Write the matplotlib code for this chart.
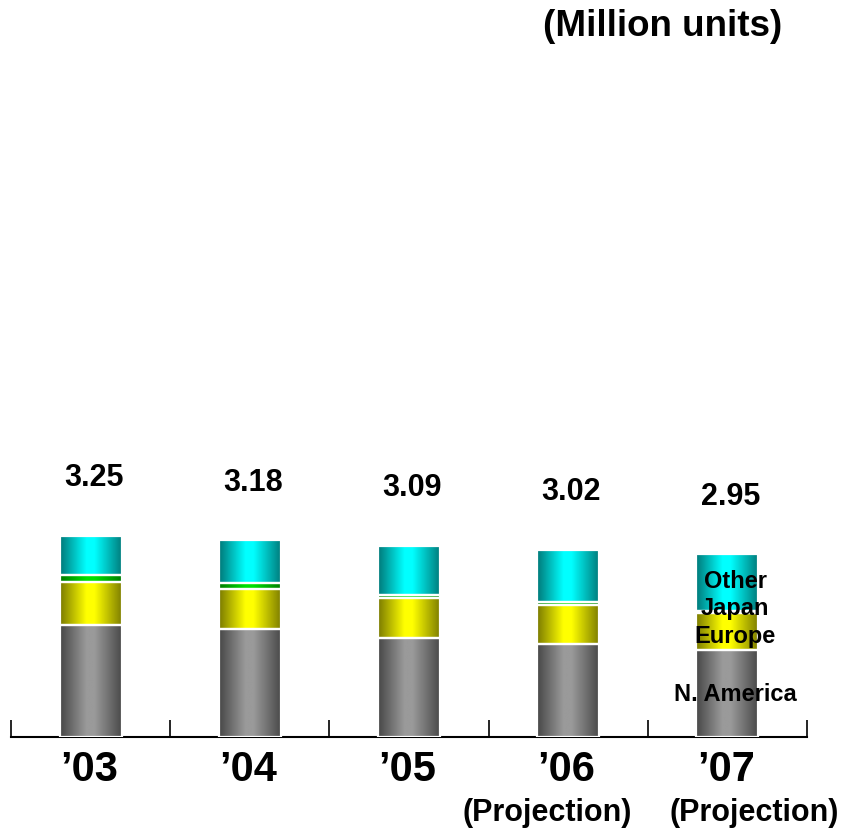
import numpy as np
import matplotlib
matplotlib.use("Agg")
import matplotlib.pyplot as plt
from matplotlib.colors import LinearSegmentedColormap

plt.rcParams['font.family'] = ['Liberation Sans', 'DejaVu Sans']

years = ["\u201903", "\u201904", "\u201905", "\u201906", "\u201907"]
notes = ["", "", "", "(Projection)", "(Projection)"]
totals = [3.25, 3.18, 3.09, 3.02, 2.95]
n_america = [1.81, 1.75, 1.60, 1.51, 1.41]
europe = [0.70, 0.64, 0.65, 0.62, 0.59]
japan = [0.10, 0.09, 0.05, 0.05, 0.04]
other = [0.64, 0.70, 0.79, 0.84, 0.91]
regions = ["N. America", "Europe", "Japan", "Other"]

# dark edge / bright centre for a cylinder look
shades = {
    "N. America": ("#474747", "#9a9a9a"),
    "Europe": ("#7a7a00", "#ffff00"),
    "Japan": ("#007a00", "#00e000"),
    "Other": ("#007878", "#00ffff"),
}


def cylinder_cmap(dark, light):
    return LinearSegmentedColormap.from_list(
        "cyl", [(0.0, dark), (0.42, light), (0.55, light), (1.0, dark)])


fig = plt.figure(figsize=(8.53, 8.31), dpi=100)
ax = fig.add_axes([11 / 853, 94 / 831, 796 / 853, 619 / 831])

x = np.arange(len(years))
width = 0.39
grad = np.linspace(0, 1, 256).reshape(1, -1)

bottom = np.zeros(len(years))
for name, vals in zip(regions, [n_america, europe, japan, other]):
    vals = np.array(vals)
    bars = ax.bar(x, vals, width, bottom=bottom, facecolor='none',
                  edgecolor='white', linewidth=1.6, zorder=4)
    cmap = cylinder_cmap(*shades[name])
    for b in bars:
        x0, y0 = b.get_x(), b.get_y()
        im = ax.imshow(grad, cmap=cmap, aspect='auto', zorder=3,
                       extent=(x0, x0 + b.get_width(), y0, y0 + b.get_height()))
        im.set_clip_path(b)
    bottom += vals

ax.set_xlim(-0.5, len(years) - 0.5)
ax.set_ylim(0, 10)

for s in ['top', 'right', 'left']:
    ax.spines[s].set_visible(False)
ax.spines['bottom'].set_linewidth(1.5)
ax.set_yticks([])
ax.set_xticks(np.arange(-0.5, len(years)))
ax.set_xticklabels([])
ax.tick_params(axis='x', direction='in', length=12, width=1.2)

# totals above the bars
for xi, t in zip(x, totals):
    ax.text(xi + 0.02, t + 0.93, f"{t:.2f}", ha='center', va='center',
            fontsize=22, fontweight='bold')

# year labels
for xi, yr in zip(x, years):
    ax.text(xi - 0.01, -0.53, yr, ha='center', va='center', fontsize=30,
            fontweight='bold', clip_on=False)
note_dx = [0, 0, 0, -0.13, 0.17]
for xi, nt, dx in zip(x, notes, note_dx):
    if nt:
        ax.text(xi + dx, -1.23, nt, ha='center', va='center', fontsize=22,
                fontweight='bold', clip_on=False)

# region names on the last bar
seg_labels = [("N. America", 0.69), ("Europe", 1.63), ("Japan", 2.07), ("Other", 2.52)]
for name, yy in seg_labels:
    ax.text(4.05, yy, name, ha='center', va='center', fontsize=17,
            fontweight='bold', zorder=6)

fig.text(663 / 853, 1 - 27 / 831, "(Million units)", ha='center', va='center',
         fontsize=26.5, fontweight='bold')

fig.savefig("out.png", dpi=100)
